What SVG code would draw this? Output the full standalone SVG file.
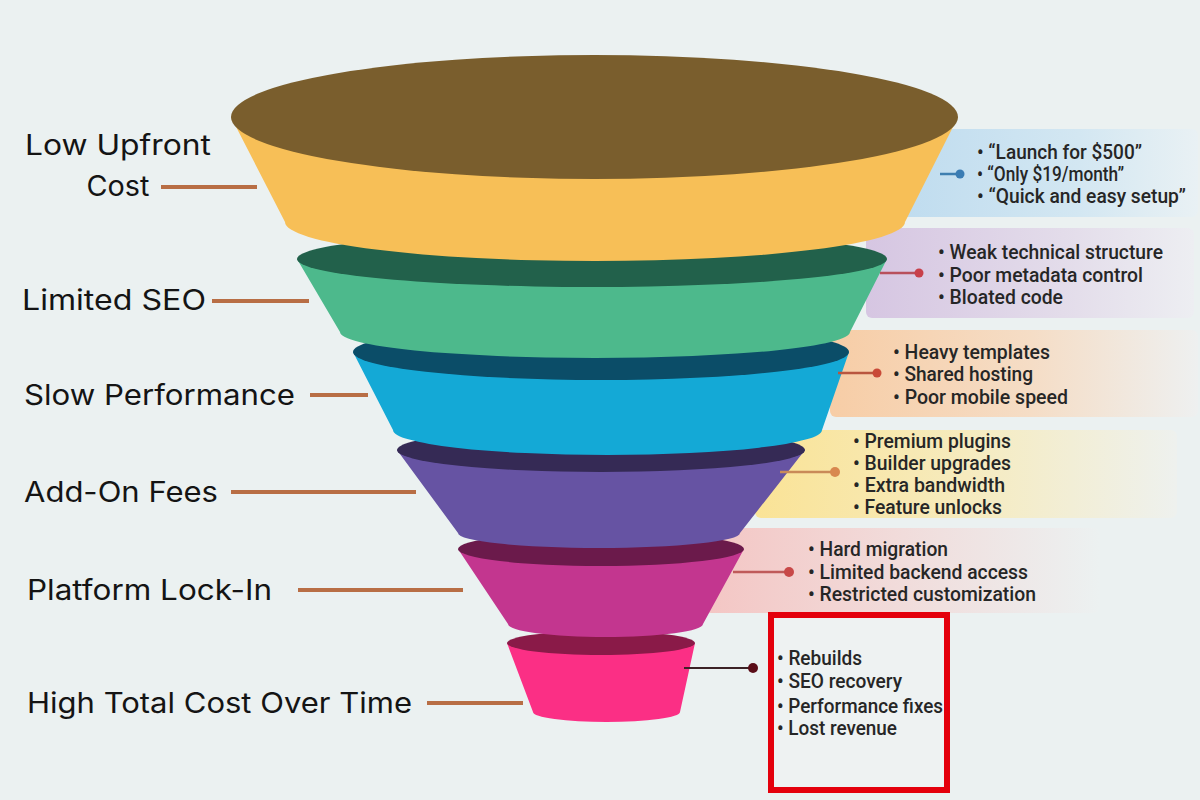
<svg xmlns="http://www.w3.org/2000/svg" width="1200" height="800" viewBox="0 0 1200 800">
<defs>
<style>
.lbl{font-family:Inter,"Open Sans","DejaVu Sans",sans-serif;font-size:28px;fill:#141414;}
.lead{stroke:#B86E45;stroke-width:4;}
.co{font-family:Roboto,"Liberation Sans",sans-serif;font-size:21px;font-weight:500;fill:#262626;}
</style>
<linearGradient id="gBlue" x1="0" y1="0" x2="1" y2="0"><stop offset="0" stop-color="#BFDCEF"/><stop offset="0.6" stop-color="#D3E7F2"/><stop offset="1" stop-color="#E9F1F4"/></linearGradient>
<linearGradient id="gPurple" x1="0" y1="0" x2="1" y2="0"><stop offset="0" stop-color="#D6C6E2"/><stop offset="0.6" stop-color="#E3DCEA"/><stop offset="1" stop-color="#EDEEF2"/></linearGradient>
<linearGradient id="gOrange" x1="0" y1="0" x2="1" y2="0"><stop offset="0" stop-color="#F7CDA6"/><stop offset="0.55" stop-color="#F5DDC6"/><stop offset="1" stop-color="#EEF0F0"/></linearGradient>
<linearGradient id="gYellow" x1="0" y1="0" x2="1" y2="0"><stop offset="0" stop-color="#FAE396"/><stop offset="0.5" stop-color="#F6EBBE"/><stop offset="1" stop-color="#EEF1EE"/></linearGradient>
<linearGradient id="gPink" x1="0" y1="0" x2="1" y2="0"><stop offset="0" stop-color="#F4C6C4"/><stop offset="0.5" stop-color="#F1DCDB"/><stop offset="1" stop-color="#ECF1F1"/></linearGradient>
</defs>
<rect width="1200" height="800" fill="#EBF1F1"/>

<g id="callout-boxes">
<rect x="900" y="129" width="298" height="88" rx="6" fill="url(#gBlue)"/>
<rect x="866" y="228" width="328" height="90" rx="6" fill="url(#gPurple)"/>
<rect x="830" y="330" width="368" height="87" rx="6" fill="url(#gOrange)"/>
<rect x="755" y="430" width="422" height="88" rx="6" fill="url(#gYellow)"/>
<rect x="705" y="528" width="395" height="85" rx="6" fill="url(#gPink)"/>
</g>

<g id="funnel">
<g id="band-high-total-cost">
<path d="M507,643 L533,712 A73.5,10 0 0 0 680,712 L695,643 Z" fill="#FB2F85"/>
<ellipse cx="601" cy="643" rx="94" ry="12" fill="#8A1A48"/>
</g>
<g id="band-platform-lock-in">
<path d="M458,549 L508,624 A97.5,13 0 0 0 703,624 L744,549 Z" fill="#C3368F"/>
<ellipse cx="601" cy="549" rx="143" ry="17" fill="#6B1A4B"/>
</g>
<g id="band-add-on-fees">
<path d="M397,450 L458,533 A141,15 0 0 0 740,533 L805,450 Z" fill="#6653A3"/>
<ellipse cx="601" cy="450" rx="204" ry="22" fill="#352A55"/>
</g>
<g id="band-slow-performance">
<path d="M353,352 L393,430 A214.5,25 0 0 0 822,430 L849,352 Z" fill="#14A9D6"/>
<ellipse cx="601" cy="352" rx="248" ry="28" fill="#0B4D68"/>
</g>
<g id="band-limited-seo">
<path d="M297,259 L340,332 A255,26 0 0 0 850,332 L887,259 Z" fill="#4DB98C"/>
<ellipse cx="592" cy="259" rx="295" ry="28" fill="#22614B"/>
</g>
<g id="band-low-upfront-cost">
<path d="M231,117 L285,222 A310,39 0 0 0 905,222 L958,117 Z" fill="#F7BF57"/>
<ellipse cx="594.5" cy="117" rx="363.5" ry="62" fill="#7A5E2D"/>
</g>
</g>

<g id="connectors">
<line class="lead" x1="161" y1="187" x2="257" y2="187"/>
<line class="lead" x1="212" y1="301" x2="309" y2="301"/>
<line class="lead" x1="310" y1="395" x2="368" y2="395"/>
<line class="lead" x1="231" y1="492" x2="416" y2="492"/>
<line class="lead" x1="298" y1="590" x2="463" y2="590"/>
<line class="lead" x1="427" y1="703" x2="523" y2="703"/>

<line x1="940" y1="174" x2="960" y2="174" stroke="#3F7FB0" stroke-width="2.5"/>
<circle cx="960" cy="174" r="4.5" fill="#3A7CB3"/>
<line x1="880" y1="273" x2="919" y2="273" stroke="#B8505C" stroke-width="2.5"/>
<circle cx="919" cy="273" r="4.5" fill="#C8404A"/>
<line x1="838" y1="373" x2="877" y2="373" stroke="#B9563F" stroke-width="2.5"/>
<circle cx="877" cy="373" r="4.5" fill="#C94A38"/>
<line x1="780" y1="472" x2="835" y2="472" stroke="#C98A58" stroke-width="2.5"/>
<circle cx="835" cy="472" r="5" fill="#D8884F"/>
<line x1="733" y1="572" x2="789" y2="572" stroke="#BF5A5A" stroke-width="2.5"/>
<circle cx="789" cy="572" r="5" fill="#C84848"/>
<line x1="684" y1="668" x2="753" y2="668" stroke="#3B2226" stroke-width="2"/>
<circle cx="753" cy="668" r="5" fill="#5A0D18"/>
</g>

<g id="label-low-upfront-cost">
<text class="lbl" x="118" y="155" text-anchor="middle" textLength="186" lengthAdjust="spacingAndGlyphs">Low Upfront</text>
<text class="lbl" x="118" y="196" text-anchor="middle" textLength="63" lengthAdjust="spacingAndGlyphs">Cost</text>
</g>
<g id="label-limited-seo"><text class="lbl" x="22" y="310" textLength="184" lengthAdjust="spacingAndGlyphs">Limited SEO</text></g>
<g id="label-slow-performance"><text class="lbl" x="24" y="405" textLength="271" lengthAdjust="spacingAndGlyphs">Slow Performance</text></g>
<g id="label-add-on-fees"><text class="lbl" x="24" y="502" textLength="194" lengthAdjust="spacingAndGlyphs">Add-On Fees</text></g>
<g id="label-platform-lock-in"><text class="lbl" x="27" y="600" textLength="245" lengthAdjust="spacingAndGlyphs">Platform Lock-In</text></g>
<g id="label-high-total-cost"><text class="lbl" x="27" y="713" textLength="385" lengthAdjust="spacingAndGlyphs">High Total Cost Over Time</text></g>

<g id="callout-low-upfront-cost">
<text class="co" x="977" y="159" textLength="165" lengthAdjust="spacingAndGlyphs">• “Launch for $500”</text>
<text class="co" x="977" y="181" textLength="147" lengthAdjust="spacingAndGlyphs">• “Only $19/month”</text>
<text class="co" x="977" y="203" textLength="209" lengthAdjust="spacingAndGlyphs">• “Quick and easy setup”</text>
</g>
<g id="callout-limited-seo">
<text class="co" x="938" y="259" textLength="225" lengthAdjust="spacingAndGlyphs">• Weak technical structure</text>
<text class="co" x="938" y="282" textLength="205" lengthAdjust="spacingAndGlyphs">• Poor metadata control</text>
<text class="co" x="938" y="304" textLength="125" lengthAdjust="spacingAndGlyphs">• Bloated code</text>
</g>
<g id="callout-slow-performance">
<text class="co" x="893" y="359" textLength="157" lengthAdjust="spacingAndGlyphs">• Heavy templates</text>
<text class="co" x="893" y="381" textLength="140" lengthAdjust="spacingAndGlyphs">• Shared hosting</text>
<text class="co" x="893" y="404" textLength="175" lengthAdjust="spacingAndGlyphs">• Poor mobile speed</text>
</g>
<g id="callout-add-on-fees">
<text class="co" x="853" y="448" textLength="158" lengthAdjust="spacingAndGlyphs">• Premium plugins</text>
<text class="co" x="853" y="470" textLength="158" lengthAdjust="spacingAndGlyphs">• Builder upgrades</text>
<text class="co" x="853" y="492" textLength="152" lengthAdjust="spacingAndGlyphs">• Extra bandwidth</text>
<text class="co" x="853" y="514" textLength="149" lengthAdjust="spacingAndGlyphs">• Feature unlocks</text>
</g>
<g id="callout-platform-lock-in">
<text class="co" x="808" y="556" textLength="140" lengthAdjust="spacingAndGlyphs">• Hard migration</text>
<text class="co" x="808" y="579" textLength="220" lengthAdjust="spacingAndGlyphs">• Limited backend access</text>
<text class="co" x="808" y="601" textLength="228" lengthAdjust="spacingAndGlyphs">• Restricted customization</text>
</g>
<g id="callout-high-total-cost">
<rect x="771" y="615" width="176" height="175" fill="#EEF2F2" stroke="#E4000C" stroke-width="6"/>
<text class="co" x="777" y="665" textLength="85" lengthAdjust="spacingAndGlyphs">• Rebuilds</text>
<text class="co" x="777" y="688" textLength="125" lengthAdjust="spacingAndGlyphs">• SEO recovery</text>
<text class="co" x="777" y="713" textLength="166" lengthAdjust="spacingAndGlyphs">• Performance fixes</text>
<text class="co" x="777" y="735" textLength="120" lengthAdjust="spacingAndGlyphs">• Lost revenue</text>
</g>
</svg>
